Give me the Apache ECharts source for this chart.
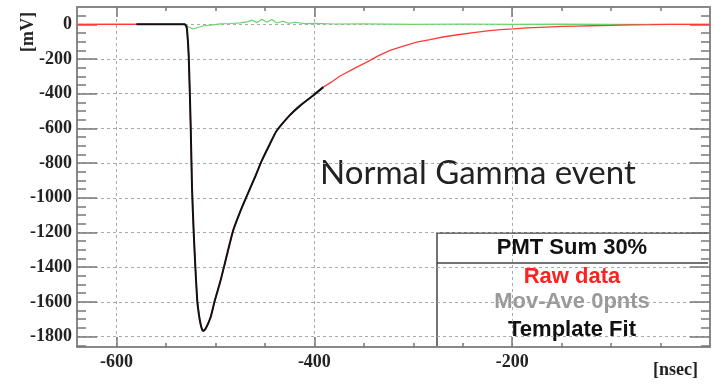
<!DOCTYPE html>
<html>
<head>
<meta charset="utf-8">
<script src="https://cdn.jsdelivr.net/npm/echarts@6/dist/echarts.min.js"></script>
<style>
  html, body { margin: 0; padding: 0; background: #fff; }
  #chart { width: 723px; height: 386px; }
</style>
</head>
<body>
<div id="chart"></div>
<script>
// axis ticks
const xMajor = [-600, -400, -200]
const xMinor = [-600, -550, -500, -450, -400, -350, -300, -250, -200, -150, -100, -50]
const yMajor = [0, -200, -400, -600, -800, -1000, -1200, -1400, -1600, -1800]
const yMinor = [50, 0, -50, -100, -150, -200, -250, -300, -350, -400, -450, -500, -550, -600,
  -650, -700, -750, -800, -850, -900, -950, -1000, -1050, -1100, -1150, -1200, -1250, -1300,
  -1350, -1400, -1450, -1500, -1550, -1600, -1650, -1700, -1750, -1800, -1850]

// raw data (red)
const rawTime = [-640, -620, -600, -580, -560, -540, -531, -529, -527, -525, -523.7, -522, -520.3,
  -518.3, -516, -514, -512.6, -510, -505, -500.8, -495, -490.6, -482.2, -475, -468.7, -460,
  -453.5, -445, -438.3, -425, -414.7, -401.2, -391, -382, -374, -360, -347, -335, -323.5, -310,
  -296.5, -283, -270, -255, -239, -225, -212, -199, -185, -172, -160, -150, -135, -120, -100,
  -77, -60, -40, -20, 0]
const rawValue = [0, 0, 0, 0, 0, 0, 0, -20, -190, -600, -945, -1200, -1405,
  -1600, -1700, -1752, -1768, -1755, -1690, -1595, -1480, -1380, -1190, -1080, -995, -880,
  -790, -690, -615, -525, -470, -410, -362, -330, -298, -255, -218, -180, -150, -125,
  -103, -88, -73, -60, -48, -38, -31, -26, -20, -17, -14, -12, -10, -8, -6,
  -3, -2, 0, 0, 0]

// template fit (black)
const fitTime = [-580, -560, -540, -531, -529, -527, -525, -523.7, -522, -520.3, -518.3, -516,
  -514, -512.6, -510, -505, -500.8, -495, -490.6, -482.2, -475, -468.7, -460, -453.5, -445,
  -438.3, -425, -414.7, -401.2, -391]
const fitValue = [0, 0, 0, 0, -20, -190, -600, -945, -1200, -1405, -1600, -1700,
  -1752, -1768, -1755, -1690, -1595, -1480, -1380, -1190, -1080, -995, -880, -790, -690,
  -615, -525, -470, -410, -362]

// residual (green)
const resTime = [-640, -600, -560, -531, -527, -523, -518, -512, -505, -495, -485, -475, -468,
  -463, -458, -453, -448, -443, -438, -432, -426, -420, -410, -400, -380, -350, -300, -250,
  -200, -150, -100, -50, 0]
const resValue = [0, 2, 0, 0, -15, -27, -18, -8, -5, 3, 5, 8, 14,
  24, 10, 30, 12, 28, 8, 18, 6, 12, 4, 6, 2, 3, 0, 2,
  0, 1, 0, 0, 0]

const pairs = (xs, ys) => xs.map((x, i) => [x, ys[i]])

const chart = echarts.init(document.getElementById('chart'))

const labelFont = {
  fontFamily: 'Liberation Serif',
  fontWeight: 'bold',
  fontSize: 18,
  color: '#222',
  formatter: (v) => String(v),
}
const frame = { show: true, onZero: false, lineStyle: { color: '#888', width: 2 } }
const gridLine = { show: true, lineStyle: { color: '#aaa', type: [3, 3], width: 1 } }
const tickStyle = { color: '#777', width: 1.5 }

const xBase = { type: 'value', min: -640, max: 0, splitLine: { show: false } }
const yBase = { type: 'value', min: -1860, max: 100, splitLine: { show: false } }

const option = {
  animation: false,
  grid: { left: 77, top: 7, right: 13, bottom: 39 },
  xAxis: [
    {
      ...xBase, position: 'bottom', axisLine: frame,
      axisTick: { inside: true, length: 10, customValues: xMajor, lineStyle: tickStyle },
      axisLabel: { ...labelFont, margin: 6, customValues: xMajor },
      splitLine: gridLine,
    },
    {
      ...xBase, position: 'bottom', axisLine: { show: false, onZero: false },
      axisTick: { inside: true, length: 4, customValues: xMinor, lineStyle: tickStyle },
      axisLabel: { show: false },
    },
    {
      ...xBase, position: 'top', axisLine: frame,
      axisTick: { inside: true, length: 10, customValues: xMajor, lineStyle: tickStyle },
      axisLabel: { show: false },
    },
    {
      ...xBase, position: 'top', axisLine: { show: false, onZero: false },
      axisTick: { inside: true, length: 4, customValues: xMinor, lineStyle: tickStyle },
      axisLabel: { show: false },
    },
  ],
  yAxis: [
    {
      ...yBase, position: 'left', axisLine: frame,
      axisTick: { inside: true, length: 20, customValues: yMajor, lineStyle: tickStyle },
      axisLabel: { ...labelFont, margin: 5, customValues: yMajor },
      splitLine: gridLine,
    },
    {
      ...yBase, position: 'left', axisLine: { show: false, onZero: false },
      axisTick: { inside: true, length: 9, customValues: yMinor, lineStyle: tickStyle },
      axisLabel: { show: false },
    },
    {
      ...yBase, position: 'right', axisLine: frame,
      axisTick: { inside: true, length: 20, customValues: yMajor, lineStyle: tickStyle },
      axisLabel: { show: false },
    },
    {
      ...yBase, position: 'right', axisLine: { show: false, onZero: false },
      axisTick: { inside: true, length: 9, customValues: yMinor, lineStyle: tickStyle },
      axisLabel: { show: false },
    },
  ],
  series: [
    {
      name: 'residual', type: 'line', showSymbol: false, z: 3,
      lineStyle: { color: '#6cd46c', width: 1.2 },
      data: pairs(resTime, resValue),
    },
    {
      name: 'Raw data', type: 'line', showSymbol: false, z: 4,
      lineStyle: { color: '#ff3b3b', width: 1.3 },
      data: pairs(rawTime, rawValue),
    },
    {
      name: 'Template Fit', type: 'line', showSymbol: false, z: 5, smooth: 0.2,
      lineStyle: { color: '#111', width: 2 },
      data: pairs(fitTime, fitValue),
    },
  ],
  graphic: [
    {
      type: 'text', rotation: Math.PI / 2, originX: 0, originY: 0,
      style: { text: '[mV]', font: 'bold 18px "Liberation Serif"', fill: '#222' },
      x: 19, y: 52,
    },
    {
      type: 'text', x: 653, y: 361,
      style: { text: '[nsec]', font: 'bold 18px "Liberation Serif"', fill: '#222' },
    },
    {
      type: 'text', x: 320, y: 157,
      style: { text: 'Normal Gamma event', font: '33px Lato', fill: '#222' },
    },
    {
      type: 'polyline',
      shape: { points: [[437, 347], [437, 233], [708, 233]] },
      style: { stroke: '#444', lineWidth: 1.5, fill: null },
    },
    {
      type: 'line', shape: { x1: 437, y1: 263, x2: 708, y2: 263 },
      style: { stroke: '#444', lineWidth: 1.5 },
    },
    {
      type: 'text', x: 572, y: 248,
      style: { text: 'PMT Sum 30%', font: 'bold 22px "Liberation Sans"', fill: '#111', align: 'center', verticalAlign: 'middle' },
    },
    {
      type: 'text', x: 572, y: 277,
      style: { text: 'Raw data', font: 'bold 22px "Liberation Sans"', fill: '#ff2020', align: 'center', verticalAlign: 'middle' },
    },
    {
      type: 'text', x: 572, y: 302,
      style: { text: 'Mov-Ave 0pnts', font: 'bold 22px "Liberation Sans"', fill: '#999', align: 'center', verticalAlign: 'middle' },
    },
    {
      type: 'text', x: 572, y: 330,
      style: { text: 'Template Fit', font: 'bold 22px "Liberation Sans"', fill: '#111', align: 'center', verticalAlign: 'middle' },
    },
  ],
}

chart.setOption(option)
</script>
</body>
</html>
